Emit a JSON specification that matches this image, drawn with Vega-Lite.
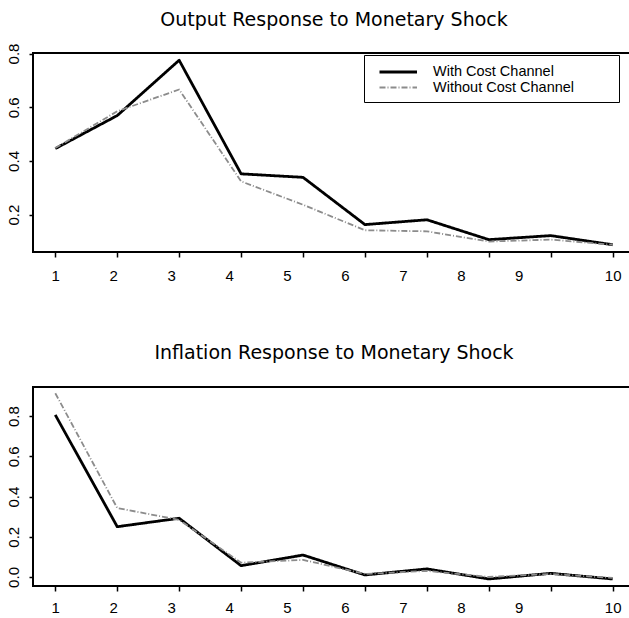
{
  "$schema": "https://vega.github.io/schema/vega-lite/v6.json",
  "background": "white",
  "padding": {"left": 4, "top": 10, "right": 0, "bottom": 0},
  "config": {
    "font": "Liberation Sans",
    "view": {"stroke": "black", "strokeWidth": 2},
    "title": {"fontSize": 19, "fontWeight": "normal", "color": "black", "offset": 24, "anchor": "middle", "font": "DejaVu Sans"},
    "axis": {"domain": false, "grid": false, "labelFontSize": 15, "labelColor": "black", "tickColor": "black", "tickWidth": 1.5, "labelFont": "Liberation Sans"},
    "legend": {"orient": "none", "legendX": 331, "legendY": 2, "padding": 8,
               "strokeColor": "black", "fillColor": "white", "labelFontSize": 14.5, "labelOffset": 43, "labelLimit": 400,
               "symbolType": "M-0.2,0H4.8", "symbolSize": 225, "rowPadding": -1,
               "titleOrient": "right", "titlePadding": 37, "titleFontSize": 11}
  },
  "datasets": {
    "output": [
      {"t": 1, "series": "With Cost Channel", "value": 0.446},
      {"t": 2, "series": "With Cost Channel", "value": 0.569},
      {"t": 3, "series": "With Cost Channel", "value": 0.775},
      {"t": 4, "series": "With Cost Channel", "value": 0.352},
      {"t": 5, "series": "With Cost Channel", "value": 0.339},
      {"t": 6, "series": "With Cost Channel", "value": 0.163},
      {"t": 7, "series": "With Cost Channel", "value": 0.181},
      {"t": 8, "series": "With Cost Channel", "value": 0.107},
      {"t": 9, "series": "With Cost Channel", "value": 0.122},
      {"t": 10, "series": "With Cost Channel", "value": 0.088},
      {"t": 1, "series": "Without Cost Channel", "value": 0.448},
      {"t": 2, "series": "Without Cost Channel", "value": 0.585},
      {"t": 3, "series": "Without Cost Channel", "value": 0.666},
      {"t": 4, "series": "Without Cost Channel", "value": 0.324},
      {"t": 5, "series": "Without Cost Channel", "value": 0.237},
      {"t": 6, "series": "Without Cost Channel", "value": 0.142},
      {"t": 7, "series": "Without Cost Channel", "value": 0.138},
      {"t": 8, "series": "Without Cost Channel", "value": 0.1},
      {"t": 9, "series": "Without Cost Channel", "value": 0.107},
      {"t": 10, "series": "Without Cost Channel", "value": 0.088}
    ],
    "inflation": [
      {"t": 1, "series": "With Cost Channel", "value": 0.806},
      {"t": 2, "series": "With Cost Channel", "value": 0.25},
      {"t": 3, "series": "With Cost Channel", "value": 0.292},
      {"t": 4, "series": "With Cost Channel", "value": 0.056},
      {"t": 5, "series": "With Cost Channel", "value": 0.109},
      {"t": 6, "series": "With Cost Channel", "value": 0.01},
      {"t": 7, "series": "With Cost Channel", "value": 0.04},
      {"t": 8, "series": "With Cost Channel", "value": -0.01},
      {"t": 9, "series": "With Cost Channel", "value": 0.018},
      {"t": 10, "series": "With Cost Channel", "value": -0.01},
      {"t": 1, "series": "Without Cost Channel", "value": 0.914},
      {"t": 2, "series": "Without Cost Channel", "value": 0.343},
      {"t": 3, "series": "Without Cost Channel", "value": 0.284},
      {"t": 4, "series": "Without Cost Channel", "value": 0.071},
      {"t": 5, "series": "Without Cost Channel", "value": 0.085},
      {"t": 6, "series": "Without Cost Channel", "value": 0.015},
      {"t": 7, "series": "Without Cost Channel", "value": 0.03},
      {"t": 8, "series": "Without Cost Channel", "value": 0.0},
      {"t": 9, "series": "Without Cost Channel", "value": 0.015},
      {"t": 10, "series": "Without Cost Channel", "value": -0.005}
    ]
  },
  "spacing": 59,
  "resolve": {"scale": {"color": "independent", "strokeDash": "independent", "strokeWidth": "independent"}},
  "vconcat": [
    {
      "title": {"text": "Output Response to Monetary Shock", "offset": 13},
      "width": 602,
      "height": 199,
      "data": {"name": "output"},
      "mark": {"type": "line", "strokeJoin": "round"},
      "encoding": {
        "x": {"field": "t", "type": "quantitative", "title": null,
              "scale": {"domain": [0.64, 10.36], "nice": false, "zero": false},
              "axis": {"values": [1,2,3,4,5,6,7,8,9,10], "tickSize": 5, "labelPadding": 11, "labelFontSize": 15, "labelFlush": false, "labelOverlap": false,
                       "labelOffset": {"expr": "datum.value == 10 ? 0 : -(datum.value - 1) * 4"}}},
        "y": {"field": "value", "type": "quantitative", "title": null,
              "scale": {"domain": [0.061, 0.802], "nice": false, "zero": false},
              "axis": {"values": [0.2, 0.4, 0.6, 0.8], "format": ".1f", "tickSize": 4, "labelFontSize": 15, "labelAngle": -90, "labelAlign": "center", "labelBaseline": "bottom", "labelPadding": 8, "labelFlush": false}},
        "color": {"field": "series", "type": "nominal",
                  "scale": {"domain": ["With Cost Channel", "Without Cost Channel"], "range": ["black", "#8c8c8c"]},
                  "legend": {"title": "\u00a0"}},
        "strokeDash": {"field": "series", "type": "nominal",
                       "scale": {"domain": ["With Cost Channel", "Without Cost Channel"], "range": [[1, 0], [6, 2, 1, 2]]},
                       "legend": {"title": "\u00a0"}},
        "strokeWidth": {"field": "series", "type": "nominal",
                        "scale": {"domain": ["With Cost Channel", "Without Cost Channel"], "range": [2.8, 1.8]},
                        "legend": {"title": "\u00a0"}}
      }
    },
    {
      "title": {"text": "Inflation Response to Monetary Shock", "offset": 24},
      "width": 602,
      "height": 199,
      "data": {"name": "inflation"},
      "mark": {"type": "line", "strokeJoin": "round"},
      "encoding": {
        "x": {"field": "t", "type": "quantitative", "title": null,
              "scale": {"domain": [0.64, 10.36], "nice": false, "zero": false},
              "axis": {"values": [1,2,3,4,5,6,7,8,9,10], "tickSize": 5, "labelPadding": 9, "labelFontSize": 15, "labelFlush": false, "labelOverlap": false,
                       "labelOffset": {"expr": "datum.value == 10 ? 0 : -(datum.value - 1) * 4"}}},
        "y": {"field": "value", "type": "quantitative", "title": null,
              "scale": {"domain": [-0.045, 0.945], "nice": false, "zero": false},
              "axis": {"values": [0, 0.2, 0.4, 0.6, 0.8], "format": ".1f", "tickSize": 4, "labelFontSize": 15, "labelAngle": -90, "labelAlign": "center", "labelBaseline": "bottom", "labelPadding": 8, "labelFlush": false}},
        "color": {"field": "series", "type": "nominal",
                  "scale": {"domain": ["With Cost Channel", "Without Cost Channel"], "range": ["black", "#8c8c8c"]},
                  "legend": null},
        "strokeDash": {"field": "series", "type": "nominal",
                       "scale": {"domain": ["With Cost Channel", "Without Cost Channel"], "range": [[1, 0], [6, 2, 1, 2]]},
                       "legend": null},
        "strokeWidth": {"field": "series", "type": "nominal",
                        "scale": {"domain": ["With Cost Channel", "Without Cost Channel"], "range": [2.8, 1.8]},
                        "legend": null}
      }
    }
  ]
}
